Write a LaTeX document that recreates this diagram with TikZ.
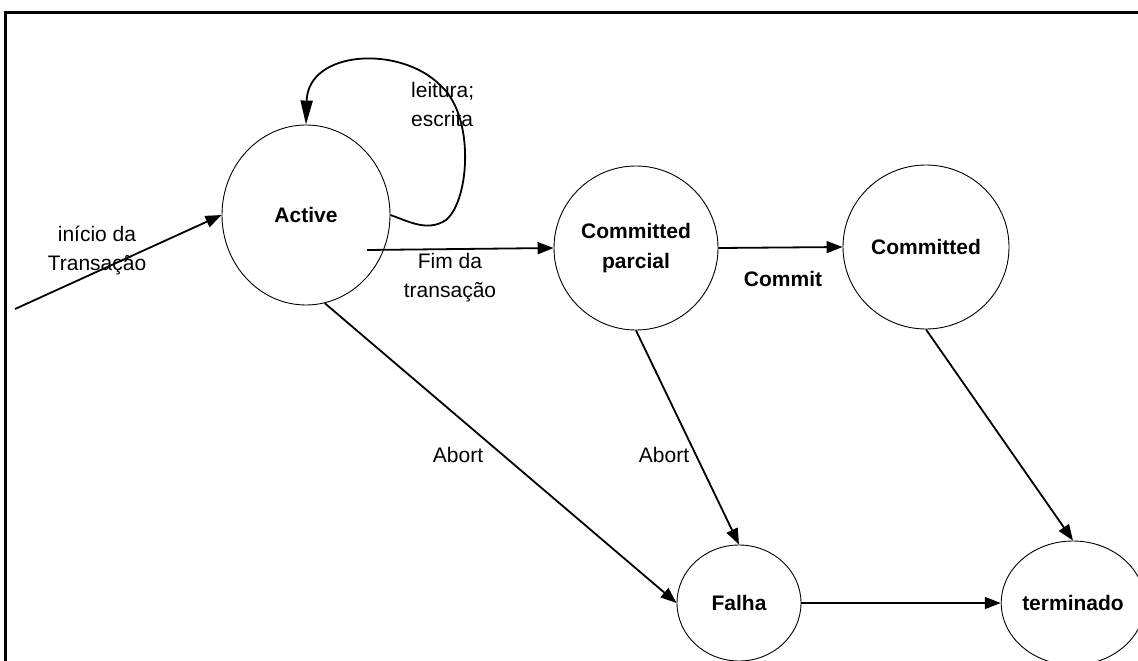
\documentclass[tikz,border=0pt]{standalone}
\usepackage{fontspec}
\setmainfont{Liberation Sans}
\usetikzlibrary{arrows.meta,shapes.geometric}

\begin{document}
\begin{tikzpicture}[x=1pt,y=-1pt,
  state/.style={draw,ellipse,line width=0.9pt,inner sep=0pt,align=center,
                font=\bfseries\fontsize{21}{30}\selectfont},
  lbl/.style={inner sep=0pt,align=center,font=\fontsize{21}{29}\selectfont},
  conn/.style={line width=1.8pt,-{Triangle[length=16pt,width=12pt]}},
  frame/.style={line width=2.8pt}]
\useasboundingbox (0,0) rectangle (1138,661);

% outer frame (only top and left edges fall inside the page)
\draw[frame] (4,12.5) -- (1150,12.5);
\draw[frame,line width=2.4pt] (5.5,11) -- (5.5,680);

% states
\node[state,minimum width=168pt,minimum height=180pt] (active) at (306,215) {Active};
\node[state,minimum width=164pt,minimum height=164pt] (cpar)   at (636,248) {Committed\\parcial};
\node[state,minimum width=166pt,minimum height=164pt] (comm)   at (926,247) {Committed};
\node[state,minimum width=124pt,minimum height=116pt] (falha)  at (739,603) {Falha};
\node[state,minimum width=128pt,minimum height=124pt] (term)   at (1073,603) {terminado};

% free ends
\coordinate (src) at (15,309);
\coordinate (fimstart) at (367,250);

% transitions
\draw[conn] (src) -- (active.west);
\draw[line width=1.8pt,-{Triangle[length=24pt,width=12pt]}]
  (active.east) .. controls (410,222) and (428,232) .. (446,220)
                .. controls (470,200) and (475,115) .. (440,85)
                .. controls (400,45) and (308,50) .. (active.north);
\draw[conn] (fimstart) -- (cpar.west);
\draw[conn] (cpar.east) -- (comm.west);
\draw[conn] (active.-78) -- (falha.west);
\draw[conn] (cpar.south) -- (falha.north);
\draw[conn] (comm.south) -- (term.north);
\draw[conn] (falha.east) -- (term.west);

% labels
\node[lbl] (linicio) at (97,250) {início da\\Transação};
\node[lbl,anchor=west,align=left] (lloop) at (411,104) {leitura;\\escrita};
\node[lbl] (lfim) at (450,278) {Fim da\\transação};
\node[lbl,font=\bfseries\fontsize{21}{29}\selectfont] (lcommit) at (783,279) {Commit};
\node[lbl] (labort1) at (458,455) {Abort};
\node[lbl] (labort2) at (664,455) {Abort};
\end{tikzpicture}
\end{document}
